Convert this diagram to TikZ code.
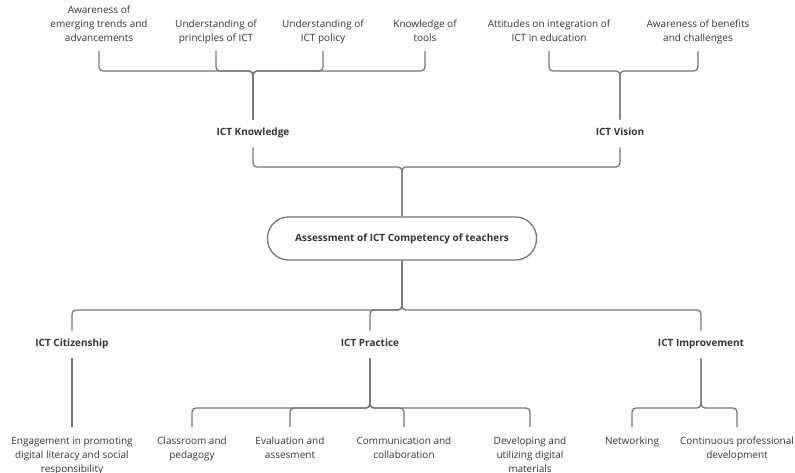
\documentclass[tikz,border=0pt]{standalone}
\usepackage{fontspec}
\setmainfont{Open Sans}
\begin{document}
\begin{tikzpicture}[x=1pt,y=-1pt,
  every node/.style={text=txt},
  base/.style={font=\fontsize{10}{14}\selectfont, align=center, inner xsep=1pt},
  topl/.style={base, anchor=south, inner ysep=5pt},
  leafl/.style={base, anchor=north, inner ysep=0pt},
  midl/.style={font=\fontsize{10}{14}\selectfont\bfseries, text height=7pt, text depth=2.5pt, inner ysep=9pt, inner xsep=2pt},
  rootbox/.style={draw=ln, line width=1.3pt, rounded corners=21pt, minimum width=269pt, minimum height=43pt, font=\fontsize{10}{14}\selectfont\bfseries},
  conn/.style={draw=ln, line width=1.3pt, rounded corners=4pt}]
\definecolor{txt}{HTML}{333333}
\definecolor{ln}{HTML}{777777}
\useasboundingbox (0,0) rectangle (795,472);
% top labels
\node[topl] (a1) at (99,51) {Awareness of\\emerging trends and\\advancements\strut};
\node[topl] (a2) at (216,51) {Understanding of\\principles of ICT\strut};
\node[topl] (a3) at (323,51) {Understanding of\\ICT policy\strut};
\node[topl] (a4) at (425,51) {Knowledge of\\tools\strut};
\node[topl] (a5) at (549,51) {Attitudes on integration of\\ICT in education\strut};
\node[topl] (a6) at (698,51) {Awareness of benefits\\and challenges\strut};
% middle labels
\node[midl] (k) at (253,133.5) {ICT Knowledge};
\node[midl] (v) at (620,133.5) {ICT Vision};
\coordinate (kb) at (253,71);
\coordinate (vb) at (620,71);
\coordinate (tb) at (402,167);
% root
\node[rootbox] (root) at (402,238.5) {Assessment of ICT Competency of teachers};
\coordinate (rb) at (402,310);
% lower middle labels
\node[midl] (cit) at (72,344.5) {ICT Citizenship};
\node[midl] (pra) at (370,344.5) {ICT Practice};
\node[midl] (imp) at (701,344.5) {ICT Improvement};
\coordinate (pb) at (370,408);
\coordinate (ib) at (701,408);
% leaves
\node[leafl] (e1) at (72,434) {\strut Engagement in promoting\\digital literacy and social\\responsibility};
\node[leafl] (p1) at (192,434) {\strut Classroom and\\pedagogy};
\node[leafl] (p2) at (290,434) {\strut Evaluation and\\assesment};
\node[leafl] (p3) at (404,434) {\strut Communication and\\collaboration};
\node[leafl] (p4) at (530,434) {\strut Developing and\\utilizing digital\\materials};
\node[leafl] (i1) at (632,434) {\strut Networking};
\node[leafl] (i2) at (737,434) {\strut Continuous professional\\development};
% connectors top
\foreach \n in {a1,a2,a3,a4} \draw[conn] (\n.south) |- (kb) -- (k.north);
\foreach \n in {a5,a6} \draw[conn] (\n.south) |- (vb) -- (v.north);
\foreach \n in {k,v} \draw[conn] (\n.south) |- (tb) -- (root.north);
% connectors bottom
\foreach \n in {cit,pra,imp} \draw[conn] (root.south) -- (rb) -| (\n.north);
\draw[conn] (cit.south) -- ([yshift=7pt]e1.north);
\foreach \n in {p1,p2,p3,p4} \draw[conn] (pra.south) -- (pb) -| ([yshift=7pt]\n.north);
\foreach \n in {i1,i2} \draw[conn] (imp.south) -- (ib) -| ([yshift=7pt]\n.north);
\end{tikzpicture}
\end{document}
